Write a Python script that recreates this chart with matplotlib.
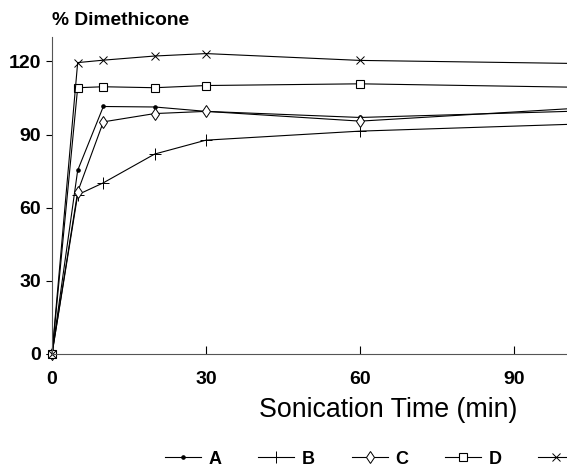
#==================================================================================================================#
# REQUIRED MODULES
#==================================================================================================================#

import matplotlib
matplotlib.use('Agg')
import matplotlib.pyplot as plt                                      # plotting library

#==================================================================================================================#
# DATA
#==================================================================================================================#

# sonication time (min)
time = [0, 5, 10, 20, 30, 60, 120]

# % dimethicone recovered for each sample
sample_a = [0, 75.3, 101.5, 101.3, 99.5, 97.0, 100.7]
sample_b = [0, 65.3, 70.2, 82.0, 87.7, 91.4, 95.5]
sample_c = [0, 66.5, 95.2, 98.6, 99.5, 95.5, 103.0]
sample_d = [0, 109.2, 109.6, 109.2, 110.1, 110.8, 108.8]
sample_e = [0, 119.5, 120.5, 122.2, 123.2, 120.4, 118.6]

labels = ['A', 'B', 'C', 'D', 'E']
xticks = [0, 30, 60, 90]
yticks = [0, 30, 60, 90, 120]

#==================================================================================================================#
# CREATE THE PLOT
#==================================================================================================================#

plt.rcParams['font.family'] = ['Liberation Sans', 'DejaVu Sans']

fig = plt.figure(figsize=(5.67, 4.67), dpi=100)
ax = fig.add_axes([52/567, 1-354/467, (567-52)/567, (354-37)/467])

# marker styles for each sample
styles = [dict(marker='o', markersize=2.3, markerfacecolor='black'),
          dict(marker='+', markersize=8, markeredgewidth=0.7),
          dict(marker='d', markersize=6.5, markerfacecolor='white', markeredgewidth=0.7),
          dict(marker='s', markersize=5.5, markerfacecolor='white', markeredgewidth=0.8),
          dict(marker='x', markersize=6, markeredgewidth=0.7)]

for values, label, st in zip([sample_a, sample_b, sample_c, sample_d, sample_e], labels, styles):
    ax.plot(time, values, color='black', linewidth=0.8, label=label, clip_on=False, **st)

# axes limits and ticks
ax.set_xlim(0, 100.3)
ax.set_ylim(0, 130)
ax.set_xticks(xticks)
ax.set_yticks(yticks)
ax.tick_params(width=0.8, labelsize=14, colors='black')
ax.tick_params(axis='x', direction='in', length=6, pad=12)
ax.tick_params(axis='y', direction='out', length=4, pad=4)
for lab in ax.get_xticklabels() + ax.get_yticklabels():
    lab.set_fontweight('semibold')

ax.spines['top'].set_visible(False)
ax.spines['right'].set_visible(False)
ax.spines['left'].set_color('#555555')
ax.spines['bottom'].set_color('#555555')

# axis titles
fig.text(52/567, 1-20.5/467, '% Dimethicone', fontsize=13.8, fontweight='bold', ha='left', va='center')
fig.text(517/567, 1-417/467, 'Sonication Time (min)', fontsize=19.3, ha='right', va='baseline')

# legend along the bottom (last entry runs off the page)
leg = fig.legend(loc='center left', bbox_to_anchor=(165/567, 1-459/467), ncol=5, frameon=False,
                 handlelength=2.0, handletextpad=0.4, columnspacing=2.05, borderaxespad=0, borderpad=0,
                 prop={'size': 13, 'weight': 'bold'})

#==================================================================================================================#
# SAVE THE PLOT
#==================================================================================================================#

plt.savefig('out.png', dpi=100)
